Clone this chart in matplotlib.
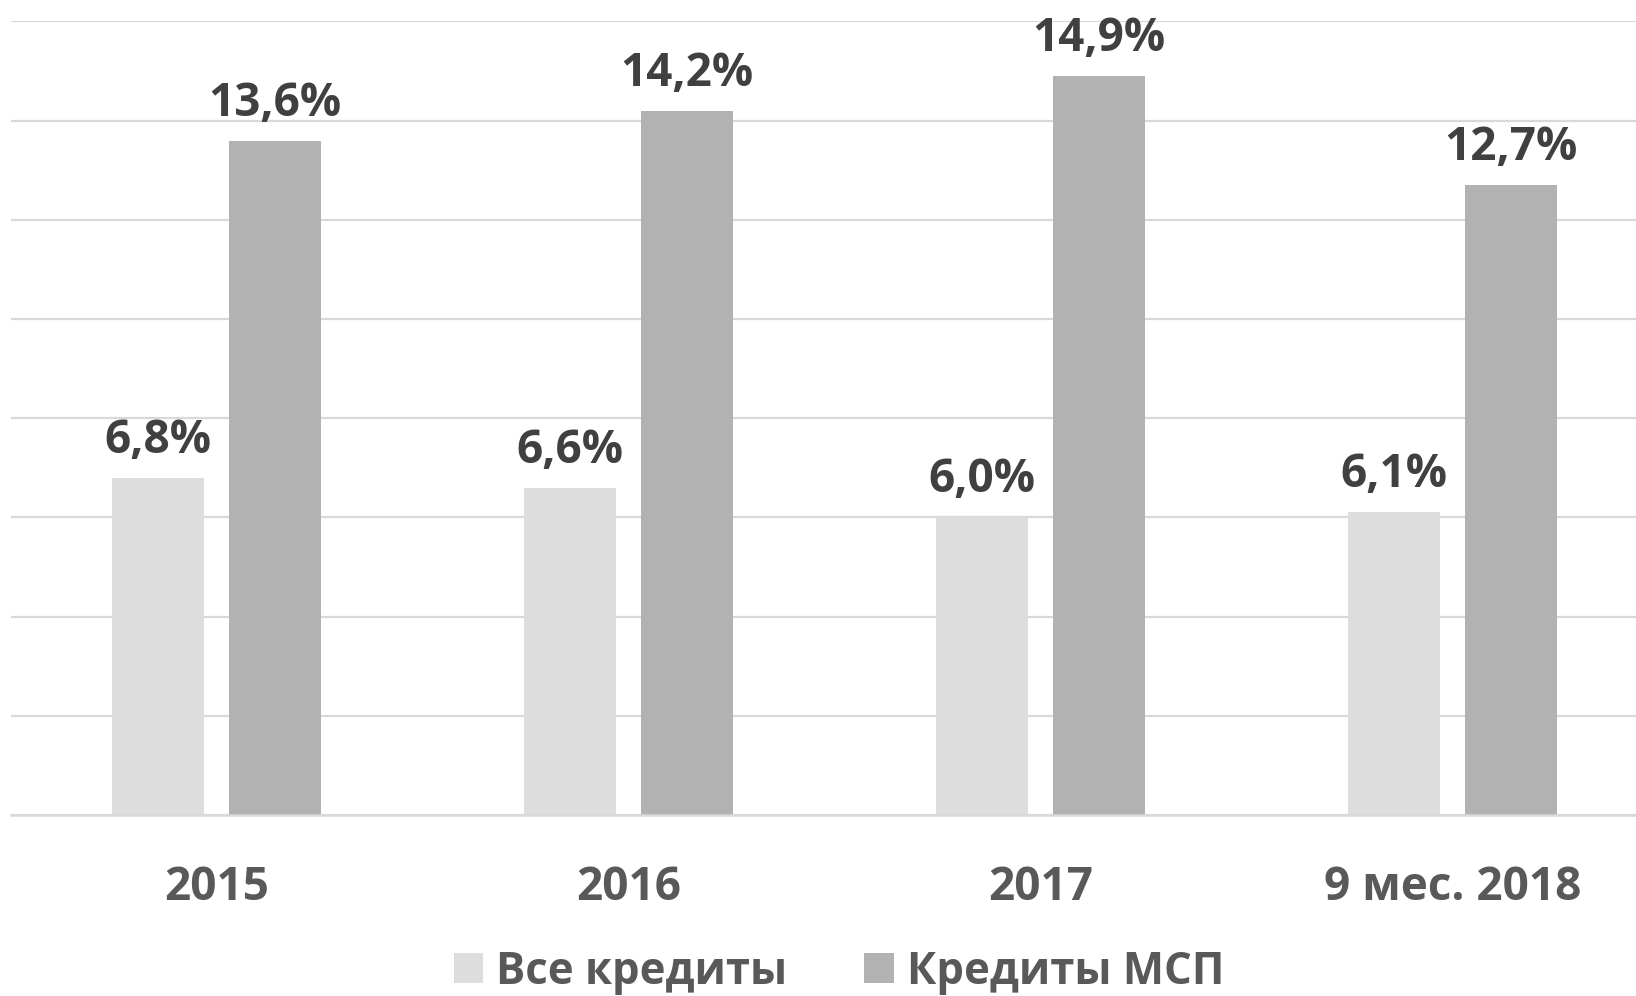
import matplotlib
matplotlib.use("Agg")
import matplotlib.pyplot as plt
from matplotlib.patches import Patch
import numpy as np

categories = ["2015", "2016", "2017", "9 мес. 2018"]
series_names = ["Все кредиты", "Кредиты МСП"]
all_loans = [6.8, 6.6, 6.0, 6.1]
sme_loans = [13.6, 14.2, 14.9, 12.7]
value_labels_all = ["6,8%", "6,6%", "6,0%", "6,1%"]
value_labels_sme = ["13,6%", "14,2%", "14,9%", "12,7%"]

plt.rcParams['font.family'] = ['Open Sans', 'DejaVu Sans']
plt.rcParams['font.weight'] = 'bold'

W, H = 1636, 996
fig = plt.figure(figsize=(W / 100, H / 100), dpi=100)
ax = fig.add_axes([10.5 / W, 181 / H, 1648 / W, 793.5 / H])

c_light = "#DDDDDD"
c_dark = "#B2B2B2"
x = np.arange(len(categories))
bw = 0.2233
off = 0.142

ax.bar(x - off, all_loans, bw, color=c_light, zorder=2)
ax.bar(x + off, sme_loans, bw, color=c_dark, zorder=2)

fs = 33
for xi, v, lab in zip(x - off, all_loans, value_labels_all):
    ax.annotate(lab, (xi, v), xytext=(0, 18), textcoords="offset points",
                ha="center", va="baseline", fontsize=fs, fontweight="bold", color="#404040")
for xi, v, lab in zip(x + off, sme_loans, value_labels_sme):
    ax.annotate(lab, (xi, v), xytext=(0, 18), textcoords="offset points",
                ha="center", va="baseline", fontsize=fs, fontweight="bold", color="#404040")

ax.set_xlim(-0.5, len(categories) - 0.5)
ax.set_ylim(0, 16)
ax.set_yticks(np.arange(0, 17, 2))
ax.yaxis.grid(True, color="#D9D9D9", linewidth=1.6, zorder=0)
ax.set_axisbelow(True)
ax.tick_params(axis="y", left=False, labelleft=False)
ax.set_xticks(x)
ax.set_xticklabels(categories, fontsize=fs, fontweight="bold", color="#595959")
ax.tick_params(axis="x", length=0, pad=35)
for s in ["top", "right", "left"]:
    ax.spines[s].set_visible(False)
ax.spines["bottom"].set_color("#D9D9D9")
ax.spines["bottom"].set_linewidth(1.8)
ax.spines["bottom"].set_zorder(3)

handles = [Patch(facecolor=c_light, edgecolor="none"), Patch(facecolor=c_dark, edgecolor="none")]
leg = fig.legend(handles, series_names, loc="center", bbox_to_anchor=(839 / W, 1 - 972 / H),
                 ncol=2, frameon=False, fontsize=31.5, handlelength=0.68, handleheight=0.68,
                 handletextpad=0.3, columnspacing=1.75, borderpad=0, borderaxespad=0)
for t in leg.get_texts():
    t.set_color("#595959")
    t.set_fontweight("bold")

fig.savefig("out.png", dpi=100)
